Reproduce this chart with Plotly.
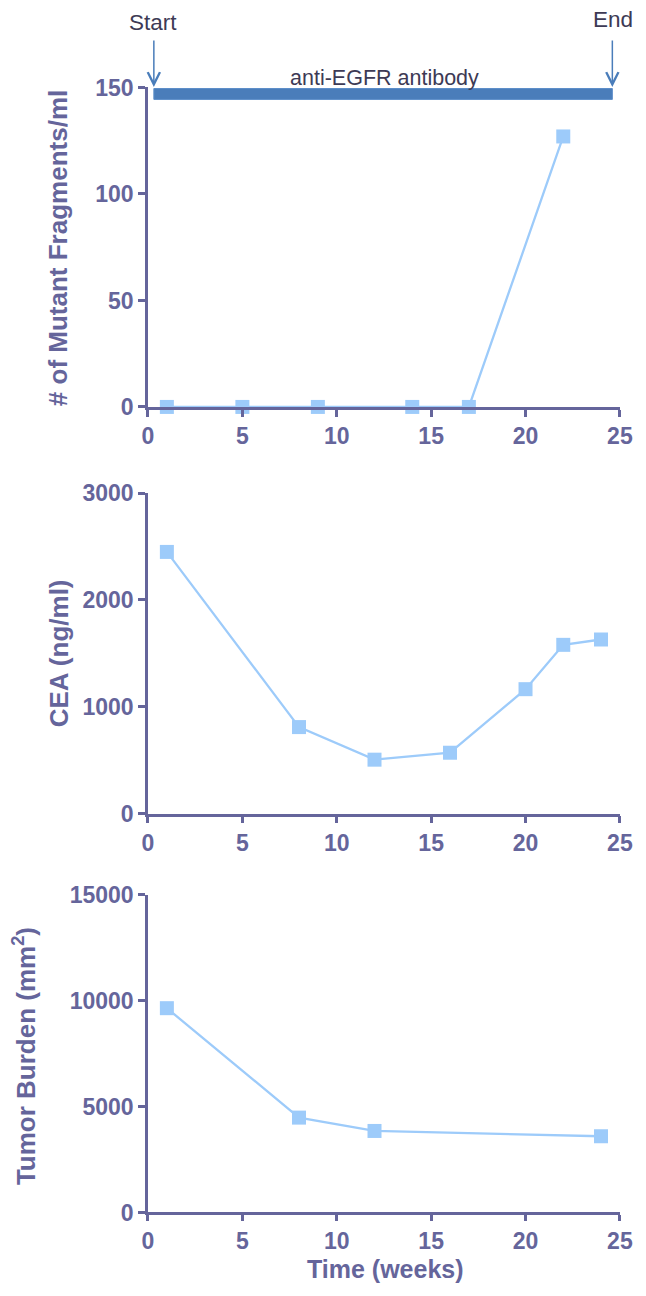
import plotly.graph_objects as go

# ---- data ----
mut_weeks = [1, 5, 9, 14, 17, 22]
mut_frag = [0, 0, 0, 0, 0, 127]

cea_weeks = [1, 8, 12, 16, 20, 22, 24]
cea_vals = [2450, 810, 505, 570, 1165, 1580, 1630]

tumor_weeks = [1, 8, 12, 24]
tumor_vals = [9650, 4480, 3850, 3600]

x_ticks = [0, 5, 10, 15, 20, 25]
mut_ticks = [0, 50, 100, 150]
cea_ticks = [0, 1000, 2000, 3000]
tumor_ticks = [0, 5000, 10000, 15000]

treat_start, treat_end = 0.31, 24.6

W, H = 646, 1296
AX = "#65659b"
PT = "#9dcbfa"
FONT = "Liberation Sans, Arial, sans-serif"

X0_PX, X1_PX = 146.3, 632.5

def xpaper(v):
    return (X0_PX + v * (X1_PX - X0_PX) / 25) / W

def ypaper(py):
    return (H - py) / H

fig = go.Figure()

def add_series(xs, ys, xa, ya):
    fig.add_trace(go.Scatter(
        x=xs, y=ys, xaxis=xa, yaxis=ya, mode="lines+markers",
        line=dict(color=PT, width=2.3),
        marker=dict(symbol="square", size=14, color=PT),
        cliponaxis=False, showlegend=False))

add_series(mut_weeks, mut_frag, "x", "y")
add_series(cea_weeks, cea_vals, "x2", "y2")
add_series(tumor_weeks, tumor_vals, "x3", "y3")

xdom = [X0_PX / W, X1_PX / W]
def ydom(top, bottom):
    return [(H - bottom) / H, (H - top) / H]

TICKF = dict(family=FONT, size=23, color=AX, weight="bold")
def xax(anchor, ticklen=7):
    return dict(range=[0, 25], tickvals=x_ticks, showline=True, linecolor=AX,
                linewidth=2.5, ticks="outside", ticklen=ticklen, tickwidth=2.5,
                tickcolor=AX, showgrid=False, zeroline=False,
                tickfont=TICKF, domain=xdom, fixedrange=True, anchor=anchor)

def yax(rng, tv, dom, anchor):
    return dict(range=rng, tickvals=tv, ticktext=[str(t) for t in tv],
                showline=True, linecolor=AX,
                linewidth=2.5, ticks="outside", ticklen=7, tickwidth=2.5,
                tickcolor=AX, showgrid=False, zeroline=False,
                tickfont=TICKF, domain=dom, anchor=anchor, ticklabelstandoff=0)

fig.update_layout(
    width=W, height=H, margin=dict(l=0, r=0, t=0, b=0),
    paper_bgcolor="white", plot_bgcolor="white",
    xaxis=xax("y"),
    yaxis=yax([0, 150], mut_ticks, ydom(76, 402), "x"),
    xaxis2=xax("y2"),
    yaxis2=yax([0, 3000], cea_ticks, ydom(490, 817), "x2"),
    xaxis3=xax("y3", ticklen=6),
    yaxis3=yax([0, 15000], tumor_ticks, ydom(900, 1224), "x3"),
)

# treatment bar
fig.add_shape(type="rect", xref="x", yref="y", x0=treat_start, x1=treat_end,
              y0=144.4, y1=149.5, fillcolor="#4a7dba",
              line=dict(color="#5b8dc9", width=1))

TXT = "#3d3a55"
ARR = "#4a7dba"
ann = []
ann.append(dict(text="anti-EGFR antibody", xref="paper", yref="paper",
                x=389.5 / W, y=ypaper(66),
                xanchor="center", yanchor="middle",
                showarrow=False, font=dict(family=FONT, size=21.5, color=TXT)))
for xv in [treat_start, treat_end]:
    ann.append(dict(text="", xref="paper", yref="paper", x=xpaper(xv),
                    y=ypaper(75.5), ax=0, ay=-48,
                    showarrow=True, arrowhead=5, arrowsize=1.6, arrowwidth=1.5,
                    arrowcolor=ARR))
ann.append(dict(text="Start", xref="paper", yref="paper", x=151.4 / W,
                y=ypaper(9.5), xanchor="center", yanchor="middle", showarrow=False,
                font=dict(family=FONT, size=22.5, color=TXT)))
ann.append(dict(text="End", xref="paper", yref="paper", x=625.5 / W,
                y=ypaper(7), xanchor="center", yanchor="middle", showarrow=False,
                font=dict(family=FONT, size=22.5, color=TXT)))

TF = dict(family=FONT, size=26, color=AX, weight="bold")
def title(text, px, py, angle, size=26):
    return dict(text=text, xref="paper", yref="paper", x=px / W, y=ypaper(py),
                xanchor="center", yanchor="middle", textangle=angle,
                showarrow=False, font=dict(TF, size=size))

ann.append(title("# of Mutant Fragments/ml", 53, 239.5, -90))
ann.append(title("CEA (ng/ml)", 55, 653, -90))
ann.append(title("Tumor Burden (mm<sup>2</sup>)", 19, 1064, -90))
ann.append(title("Time (weeks)", 391.5, 1282, 0, size=25))
fig.update_layout(annotations=ann)

fig.write_html("out.html")
